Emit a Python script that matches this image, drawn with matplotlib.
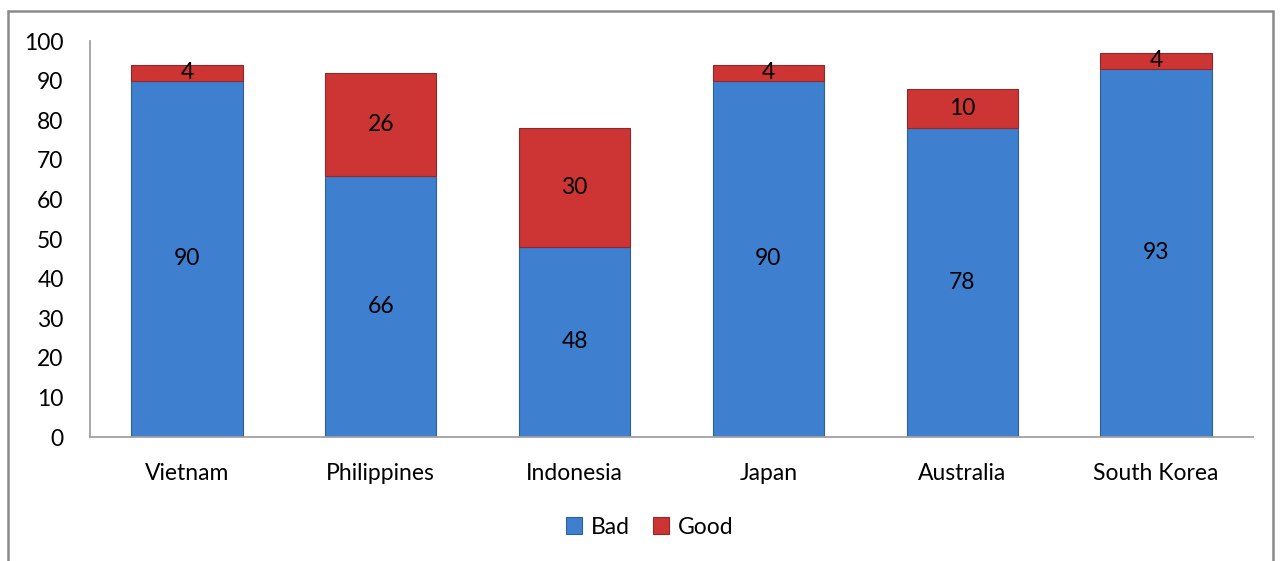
import matplotlib
matplotlib.use("Agg")
import matplotlib.pyplot as plt
from matplotlib.patches import Rectangle
import numpy as np

categories = ["Vietnam", "Philippines", "Indonesia", "Japan", "Australia", "South Korea"]
bad = [90, 66, 48, 90, 78, 93]
good = [4, 26, 30, 4, 10, 4]
yticks = [0, 10, 20, 30, 40, 50, 60, 70, 80, 90, 100]

plt.rcParams['font.family'] = ['Lato', 'DejaVu Sans']

W, H = 1283, 561
fig = plt.figure(figsize=(W/100, H/100), dpi=100)
ax = fig.add_axes([90/W, 1-437/H, (1253-90)/W, (437-41)/H])

x = np.arange(len(categories))
blue = '#3e80cf'
red = '#cd3434'
b1 = ax.bar(x, bad, width=0.575, color=blue, edgecolor='#2f5f97', linewidth=0.8)
b2 = ax.bar(x, good, width=0.575, bottom=bad, color=red, edgecolor='#8f2a2a', linewidth=0.8)

fs = 16.5
for i in range(len(categories)):
    ax.text(x[i], bad[i]/2, str(bad[i]), ha='center', va='center', fontsize=fs, color='black')
    ax.text(x[i], bad[i] + good[i]/2, str(good[i]), ha='center', va='center', fontsize=fs, color='black')

ax.set_xlim(-0.5, len(categories)-0.5)
ax.set_ylim(0, 100)
ax.set_yticks(yticks)
ax.set_yticklabels([str(t) for t in yticks], fontsize=fs)
ax.set_xticks(x)
ax.set_xticklabels(categories, fontsize=fs)
ax.tick_params(axis='y', length=0, pad=19)
ax.tick_params(axis='x', length=0, pad=19)
for s in ['top', 'right']:
    ax.spines[s].set_visible(False)
ax.spines['left'].set_color('#a0a0a0')
ax.spines['bottom'].set_color('#a0a0a0')
ax.spines['left'].set_linewidth(1.3)
ax.spines['bottom'].set_linewidth(1.3)

leg = fig.legend([b1, b2], ['Bad', 'Good'], loc='center', bbox_to_anchor=(650/W, 1-527/H),
                 ncol=2, frameon=False, fontsize=fs, handlelength=0.7, handleheight=0.7,
                 handletextpad=0.4, columnspacing=1.0)

frame = Rectangle((8/W, -0.05), (1273-8)/W, (1-11/H)+0.05, transform=fig.transFigure,
                  fill=False, edgecolor='#8a8a8a', linewidth=1.8, clip_on=False)
fig.patches.append(frame)

fig.savefig('out.png', dpi=100)
